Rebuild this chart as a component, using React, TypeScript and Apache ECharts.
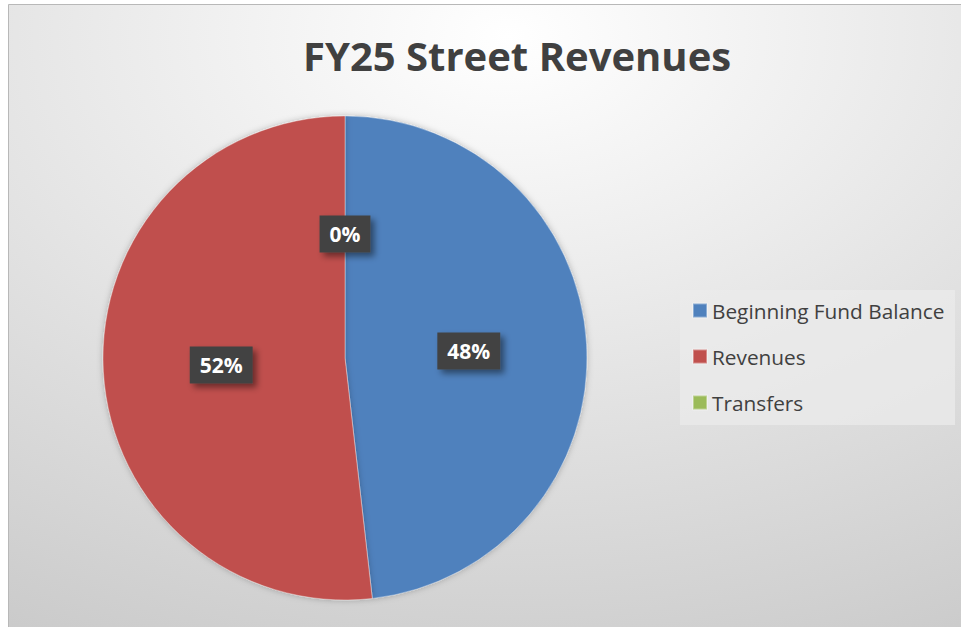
import React, { useEffect, useRef } from "react";
import * as echarts from "echarts";

const title = "FY25 Street Revenues";
const categories = ["Beginning Fund Balance", "Revenues", "Transfers"];
const values = [48.2, 51.8, 0];
const colors = ["#4f81bd", "#c0504d", "#9bbb59"];

export default function App() {
  const ref = useRef<HTMLDivElement>(null);
  useEffect(() => {
    if (!ref.current) return;
    const chart = echarts.init(ref.current, undefined, { renderer: "svg" });
    const font = "'Open Sans', 'Noto Sans', sans-serif";
    chart.setOption({
      animation: false,
      graphic: [
        {
          type: "rect",
          z: -10,
          silent: true,
          shape: { x: 8.5, y: 4.5, width: 960, height: 630 },
          style: {
            fill: {
              type: "radial",
              x: 0.52,
              y: 0.05,
              r: 1.25,
              colorStops: [
                { offset: 0, color: "#ffffff" },
                { offset: 1, color: "#c2c2c2" },
              ],
            },
            stroke: "#b8b8b8",
            lineWidth: 1,
          },
        },
        {
          type: "rect",
          z: -5,
          silent: true,
          shape: { x: 680, y: 290, width: 275, height: 135 },
          style: { fill: "rgba(235,235,235,0.75)" },
        },
      ],
      title: {
        text: title,
        left: 298,
        top: 30,
        textStyle: {
          fontFamily: font,
          fontSize: 40,
          fontWeight: "bold",
          color: "#404040",
        },
      },
      legend: {
        orient: "vertical",
        left: 687,
        top: 295,
        itemWidth: 14,
        itemHeight: 14,
        itemGap: 25,
        icon: "rect",
        data: categories,
        textStyle: {
          fontFamily: font,
          fontSize: 20.8,
          color: "#404040",
        },
      },
      series: [
        {
          type: "pie",
          center: [345, 358],
          radius: 242,
          startAngle: 90,
          clockwise: true,
          avoidLabelOverlap: false,
          itemStyle: {
            borderColor: "rgba(255,255,255,0.35)",
            borderWidth: 1,
            shadowBlur: 6,
            shadowColor: "rgba(0,0,0,0.25)",
          },
          label: {
            show: true,
            position: "inside",
            formatter: (p: any) => Math.round(p.percent) + "%",
            fontFamily: font,
            fontSize: 21,
            fontWeight: "bold",
            color: "#ffffff",
            backgroundColor: "#434343",
            padding: [9, 10, 7, 10],
            shadowColor: "rgba(0,0,0,0.45)",
            shadowBlur: 6,
            shadowOffsetX: 4,
            shadowOffsetY: 4,
          },
          labelLine: { show: false },
          data: categories.map((c, i) => ({
            name: c,
            value: values[i],
            itemStyle: { color: colors[i] },
          })),
        },
      ],
    });
    return () => chart.dispose();
  }, []);
  return (
    <div
      ref={ref}
      style={{ position: "absolute", left: 0, top: 0, width: 961, height: 627 }}
    />
  );
}
